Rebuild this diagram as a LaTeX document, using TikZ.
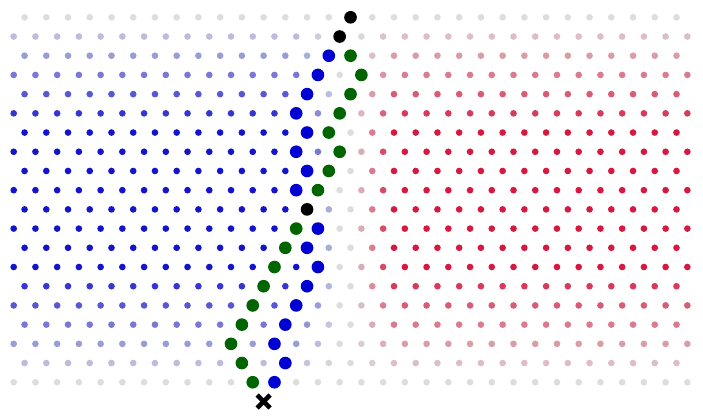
\documentclass[tikz,border=0pt]{standalone}
\usetikzlibrary{calc}

\definecolor{dotgray}{RGB}{221,221,221}
\definecolor{dotblue}{RGB}{20,20,205}
\definecolor{dotred}{RGB}{215,25,65}
\definecolor{pathblue}{RGB}{0,0,210}
\definecolor{pathgreen}{RGB}{0,100,0}

\begin{document}
\begin{tikzpicture}[x=3.26mm, y=-5.763mm,
    latdot/.style={radius=1mm},
    pathdot/.style={radius=1.9mm}]
  \useasboundingbox (-1.261,-0.901) rectangle (63.44,20.86);

  % Lattice: blue on the left, red on the right, gray in the middle and at top/bottom
  \foreach \r in {0,...,19} {
    \foreach \k in {0,...,31} {
      \pgfmathtruncatemacro{\u}{2*\k+mod(\r+1,2)}
      \ifnum\u<63
        \pgfmathsetmacro{\sh}{min(1,max(0,(abs(\u-30.5)-0.5)/4))}
        \pgfmathsetmacro{\sv}{min(1,min(\r,19-\r)/6)}
        \pgfmathtruncatemacro{\p}{100*\sh*\sv}
        \ifnum\u<31
          \fill[dotblue!\p!dotgray] (\u,\r) circle[latdot];
        \else
          \fill[dotred!\p!dotgray] (\u,\r) circle[latdot];
        \fi
      \fi
    }
  }

  % Blue path
  \foreach \u/\r in {29/2,28/3,27/4,26/5,27/6,26/7,27/8,26/9,28/11,27/12,28/13,27/14,26/15,25/16,24/17,25/18,24/19}
    \fill[pathblue] (\u,\r) circle[pathdot];

  % Green path
  \foreach \u/\r in {31/2,32/3,31/4,30/5,29/6,30/7,29/8,28/9,26/11,25/12,24/13,23/14,22/15,21/16,20/17,21/18,22/19}
    \fill[pathgreen] (\u,\r) circle[pathdot];

  % Shared points
  \foreach \u/\r in {31/0,30/1,27/10}
    \fill[black] (\u,\r) circle[pathdot];

  % Start mark
  \coordinate (start) at (23,20);
  \draw[line width=1.35mm] ([shift={(-1.95mm,-1.95mm)}]start) -- ([shift={(1.95mm,1.95mm)}]start);
  \draw[line width=1.35mm] ([shift={(-1.95mm,1.95mm)}]start) -- ([shift={(1.95mm,-1.95mm)}]start);
\end{tikzpicture}
\end{document}
